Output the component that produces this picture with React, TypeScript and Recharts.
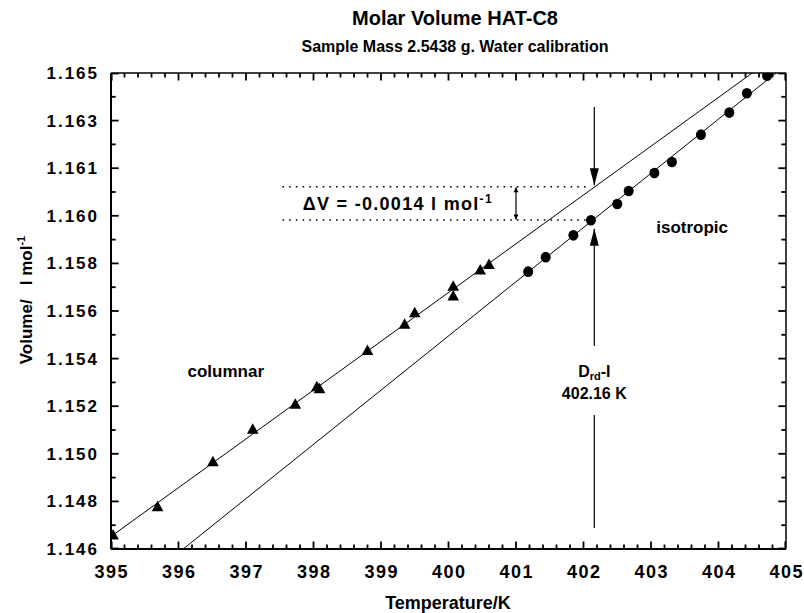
import React from 'react';
import { ScatterChart, Scatter, XAxis, YAxis, ReferenceLine, ReferenceDot } from 'recharts';

const FONT = '"Liberation Sans", Arial, Helvetica, sans-serif';

// columnar phase (triangles)
const columnarT = [395.03, 395.69, 396.51, 397.10, 397.73, 398.05, 398.09, 398.80, 399.35, 399.50, 400.07, 400.07, 400.47, 400.60];
const columnarV = [1.14656, 1.14769, 1.14948, 1.15078, 1.15178, 1.15248, 1.15240, 1.15392, 1.15497, 1.15543, 1.15649, 1.15610, 1.15714, 1.15736];

// isotropic phase (circles)
const isotropicT = [401.18, 401.44, 401.85, 402.11, 402.50, 402.67, 403.05, 403.31, 403.74, 404.16, 404.42, 404.72];
const isotropicV = [1.15707, 1.15765, 1.15852, 1.15912, 1.15977, 1.16029, 1.16101, 1.16145, 1.16254, 1.16342, 1.16419, 1.16489];

// fitted lines (end points)
const columnarFitT = [395.0, 404.5];
const columnarFitV = [1.1465, 1.165];
const isotropicFitT = [396.07, 404.85];
const isotropicFitV = [1.146, 1.165];

// axes
const xMajorTicks = [395, 396, 397, 398, 399, 400, 401, 402, 403, 404, 405];
const xTickLabels = ['395', '396', '397', '398', '399', '400', '401', '402', '403', '404', '405'];
const yMajorTicks = [1.146, 1.1479, 1.1498, 1.1517, 1.1536, 1.1555, 1.1574, 1.1593, 1.1612, 1.1631, 1.165];
const yTickLabels = ['1.146', '1.148', '1.150', '1.152', '1.154', '1.156', '1.158', '1.160', '1.161', '1.163', '1.165'];
const yMinorTicks = [1.14695, 1.14885, 1.15075, 1.15265, 1.15455, 1.15645, 1.15835, 1.16025, 1.16215, 1.16405];

// annotation values
const transitionT = 402.16;
const deltaVUpper = 1.16046;
const deltaVLower = 1.15913;

const X_DOMAIN: [number, number] = [395, 405];
const Y_DOMAIN: [number, number] = [1.146, 1.165];

const columnarData = columnarT.map((T, i) => ({ T, V: columnarV[i] }));
const isotropicData = isotropicT.map((T, i) => ({ T, V: isotropicV[i] }));

const xMinorTicks = xMajorTicks.slice(0, -1).flatMap((t) => [t + 0.2, t + 0.4, t + 0.6, t + 0.8]);

// tick-mark anchors just inside the frame (drawn as scatter marks)
const EPS_V = 0.00002;
const EPS_T = 0.01;
const clampT = (t: number) => Math.min(Math.max(t, X_DOMAIN[0] + EPS_T), X_DOMAIN[1] - EPS_T);
const clampV = (v: number) => Math.min(Math.max(v, Y_DOMAIN[0] + EPS_V), Y_DOMAIN[1] - EPS_V);
const bottomTickData = [
  ...xMajorTicks.map((T) => ({ T: clampT(T), V: Y_DOMAIN[0] + EPS_V, major: 1 })),
  ...xMinorTicks.map((T) => ({ T: clampT(T), V: Y_DOMAIN[0] + EPS_V, major: 0 })),
];
const topTickData = bottomTickData.map((d) => ({ ...d, V: Y_DOMAIN[1] - EPS_V }));
const leftTickData = [
  ...yMajorTicks.map((V) => ({ T: X_DOMAIN[0] + EPS_T, V: clampV(V), major: 1 })),
  ...yMinorTicks.map((V) => ({ T: X_DOMAIN[0] + EPS_T, V: clampV(V), major: 0 })),
];
const rightTickData = leftTickData.map((d) => ({ ...d, T: X_DOMAIN[1] - EPS_T }));

const near = (a: number, b: number) => Math.abs(a - b) < 1e-7;
const MAJ = 8;
const MIN = 5;

function BottomLabel(props: any) {
  const { x, y, payload } = props;
  const i = xMajorTicks.findIndex((m) => near(m, payload.value));
  if (i < 0) return <g />;
  return (
    <text x={x + 0.7} y={y + 29} textAnchor="middle" fontFamily={FONT} fontWeight="bold" fontSize={18} letterSpacing={1.4} fill="#000">
      {xTickLabels[i]}
    </text>
  );
}

function LeftLabel(props: any) {
  const { x, y, payload } = props;
  const i = yMajorTicks.findIndex((m) => near(m, payload.value));
  if (i < 0) return <g />;
  return (
    <text x={x - 12} y={y + 6} textAnchor="end" fontFamily={FONT} fontWeight="bold" fontSize={17} letterSpacing={2} fill="#000">
      {yTickLabels[i]}
    </text>
  );
}

const isMajor = (p: any) => {
  const m = p?.payload?.major ?? p?.major;
  return m === 1;
};

const tickMarkShape = (dx: number, dy: number) => (p: any) => {
  const { cx, cy } = p;
  if (cx == null || cy == null || isNaN(cx) || isNaN(cy)) return <g />;
  const len = isMajor(p) ? MAJ : MIN;
  const w = 1.8;
  const x = dx === 0 ? cx - w / 2 : dx > 0 ? cx - 1 : cx - len + 1;
  const y = dy === 0 ? cy - w / 2 : dy > 0 ? cy - 1 : cy - len + 1;
  const width = dx === 0 ? w : len;
  const height = dy === 0 ? w : len;
  return <rect x={x} y={y} width={width} height={height} fill="#000" />;
};

const triangleShape = (p: any) => {
  const { cx, cy } = p;
  if (cx == null || cy == null) return <g />;
  const w = 5.8;
  return <polygon points={`${cx},${cy - 6} ${cx + w},${cy + 4.5} ${cx - w},${cy + 4.5}`} fill="#000" />;
};

const circleShape = (p: any) => {
  const { cx, cy } = p;
  if (cx == null || cy == null) return <g />;
  return <ellipse cx={cx} cy={cy} rx={5} ry={5.3} fill="#000" />;
};

const arrowShape = (both: boolean, len: number, half: number) => (p: any) => {
  const { x1, y1, x2, y2 } = p;
  if ([x1, y1, x2, y2].some((v) => v == null || isNaN(v))) return <g />;
  const dx = x2 - x1;
  const dy = y2 - y1;
  const L = Math.sqrt(dx * dx + dy * dy) || 1;
  const ux = dx / L;
  const uy = dy / L;
  const head = (tx: number, ty: number, sx: number, sy: number) => {
    const bx = tx - sx * len;
    const by = ty - sy * len;
    return `${tx},${ty} ${bx - sy * half},${by + sx * half} ${bx + sy * half},${by - sx * half}`;
  };
  return (
    <g>
      <line x1={x1} y1={y1} x2={x2} y2={y2} stroke="#000" strokeWidth={1.2} />
      <polygon points={head(x2, y2, ux, uy)} fill="#000" />
      {both && <polygon points={head(x1, y1, -ux, -uy)} fill="#000" />}
    </g>
  );
};

const textShape = (content: React.ReactNode, anchor: string = 'middle', size = 16, spacing = 0) => (p: any) => {
  const { cx, cy } = p;
  if (cx == null || cy == null) return <g />;
  return (
    <text x={cx} y={cy + size * 0.36} textAnchor={anchor} fontFamily={FONT} fontWeight="bold" fontSize={size} letterSpacing={spacing} fill="#000">
      {content}
    </text>
  );
};

export default function App() {
  return (
    <div style={{ position: 'absolute', left: 0, top: 0, width: 804, height: 613, background: '#fff', fontFamily: FONT }}>
      <div style={{ position: 'absolute', left: 455, top: 6, transform: 'translateX(-50%)', whiteSpace: 'nowrap', fontWeight: 'bold', fontSize: 20, lineHeight: '24px', color: '#000' }}>
        Molar Volume HAT-C8
      </div>
      <div style={{ position: 'absolute', left: 455, top: 37, transform: 'translateX(-50%)', whiteSpace: 'nowrap', fontWeight: 'bold', fontSize: 16, lineHeight: '20px', color: '#000' }}>
        Sample Mass 2.5438 g. Water calibration
      </div>
      <div style={{ position: 'absolute', left: 448, top: 593, transform: 'translateX(-50%)', whiteSpace: 'nowrap', fontWeight: 'bold', fontSize: 18, lineHeight: '20px', color: '#000' }}>
        Temperature/K
      </div>
      <div style={{ position: 'absolute', left: 24, top: 300, transform: 'translate(-50%, -50%) rotate(-90deg)', whiteSpace: 'pre', fontWeight: 'bold', fontSize: 17, lineHeight: '20px', color: '#000' }}>
        {'Volume/   l mol'}<sup style={{ fontSize: 11 }}>-1</sup>
      </div>
      <ScatterChart width={804} height={613} margin={{ top: 72, right: 17, bottom: 63, left: 110 }}>
        <XAxis
          xAxisId={0}
          type="number"
          dataKey="T"
          domain={X_DOMAIN}
          ticks={xMajorTicks}
          interval={0}
          allowDataOverflow
          height={1}
          tickSize={0}
          tickMargin={0}
          tickLine={false}
          tick={BottomLabel}
          axisLine={{ stroke: '#000', strokeWidth: 1.8 }}
        />
        <XAxis
          xAxisId="top"
          orientation="top"
          type="number"
          dataKey="T"
          domain={X_DOMAIN}
          ticks={xMajorTicks}
          allowDataOverflow
          height={1}
          tickLine={false}
          tick={false}
          axisLine={{ stroke: '#000', strokeWidth: 1.5 }}
        />
        <YAxis
          yAxisId={0}
          type="number"
          dataKey="V"
          domain={Y_DOMAIN}
          ticks={yMajorTicks}
          interval={0}
          allowDataOverflow
          width={1}
          tickSize={0}
          tickMargin={0}
          tickLine={false}
          tick={LeftLabel}
          axisLine={{ stroke: '#000', strokeWidth: 2 }}
        />
        <YAxis
          yAxisId="right"
          orientation="right"
          type="number"
          dataKey="V"
          domain={Y_DOMAIN}
          ticks={yMajorTicks}
          allowDataOverflow
          width={1}
          tickLine={false}
          tick={false}
          axisLine={{ stroke: '#000', strokeWidth: 1.5 }}
        />

        <ReferenceLine
          segment={[{ x: columnarFitT[0], y: columnarFitV[0] }, { x: columnarFitT[1], y: columnarFitV[1] }]}
          stroke="#000"
          strokeWidth={1}
          ifOverflow="visible"
        />
        <ReferenceLine
          segment={[{ x: isotropicFitT[0], y: isotropicFitV[0] }, { x: isotropicFitT[1], y: isotropicFitV[1] }]}
          stroke="#000"
          strokeWidth={1}
          ifOverflow="visible"
        />

        {/* dotted delta V guides */}
        <ReferenceLine
          segment={[{ x: 397.54, y: deltaVUpper }, { x: 402.08, y: deltaVUpper }]}
          stroke="#000"
          strokeWidth={1.6}
          strokeDasharray="1.6 5.1"
          ifOverflow="visible"
        />
        <ReferenceLine
          segment={[{ x: 397.54, y: deltaVLower }, { x: 402.03, y: deltaVLower }]}
          stroke="#000"
          strokeWidth={1.6}
          strokeDasharray="1.6 5.1"
          ifOverflow="visible"
        />
        <ReferenceLine
          segment={[{ x: 401.0, y: deltaVUpper - 0.00002 }, { x: 401.0, y: deltaVLower + 0.00002 }]}
          shape={arrowShape(true, 5, 2.5)}
          ifOverflow="visible"
        />

        {/* transition arrows */}
        <ReferenceLine
          segment={[{ x: transitionT, y: 1.16364 }, { x: transitionT, y: 1.16052 }]}
          shape={arrowShape(false, 17, 4.5)}
          ifOverflow="visible"
        />
        <ReferenceLine
          segment={[{ x: transitionT, y: 1.15410 }, { x: transitionT, y: 1.15878 }]}
          shape={arrowShape(false, 17, 4.5)}
          ifOverflow="visible"
        />
        <ReferenceLine
          segment={[{ x: transitionT, y: 1.15135 }, { x: transitionT, y: 1.14684 }]}
          stroke="#000"
          strokeWidth={1.2}
          ifOverflow="visible"
        />

        {/* inward tick marks on the frame */}
        <Scatter data={bottomTickData} shape={tickMarkShape(0, -1)} isAnimationActive={false} />
        <Scatter data={topTickData} shape={tickMarkShape(0, 1)} isAnimationActive={false} />
        <Scatter data={leftTickData} shape={tickMarkShape(1, 0)} isAnimationActive={false} />
        <Scatter data={rightTickData} shape={tickMarkShape(-1, 0)} isAnimationActive={false} />

        <Scatter data={columnarData} shape={triangleShape} isAnimationActive={false} />
        <Scatter data={isotropicData} shape={circleShape} isAnimationActive={false} />

        <ReferenceDot x={396.7} y={1.15311} r={1} ifOverflow="visible" shape={textShape('columnar', 'middle', 17)} />
        <ReferenceDot x={403.61} y={1.15887} r={1} ifOverflow="visible" shape={textShape('isotropic', 'middle', 17)} />
        <ReferenceDot
          x={397.84}
          y={1.1598}
          r={1}
          ifOverflow="visible"
          shape={textShape(
            <>
              {'\u0394V = -0.0014   l mol'}
              <tspan fontSize={12} dy={-7}>-1</tspan>
            </>,
            'start',
            18,
            1.3
          )}
        />
        <ReferenceDot
          x={transitionT}
          y={1.15308}
          r={1}
          ifOverflow="visible"
          shape={textShape(
            <>
              {'D'}
              <tspan fontSize={11} dy={3}>rd</tspan>
              <tspan dy={-3}>-I</tspan>
            </>,
            'middle',
            16
          )}
        />
        <ReferenceDot x={transitionT} y={1.15223} r={1} ifOverflow="visible" shape={textShape('402.16 K', 'middle', 16)} />
      </ScatterChart>
    </div>
  );
}
